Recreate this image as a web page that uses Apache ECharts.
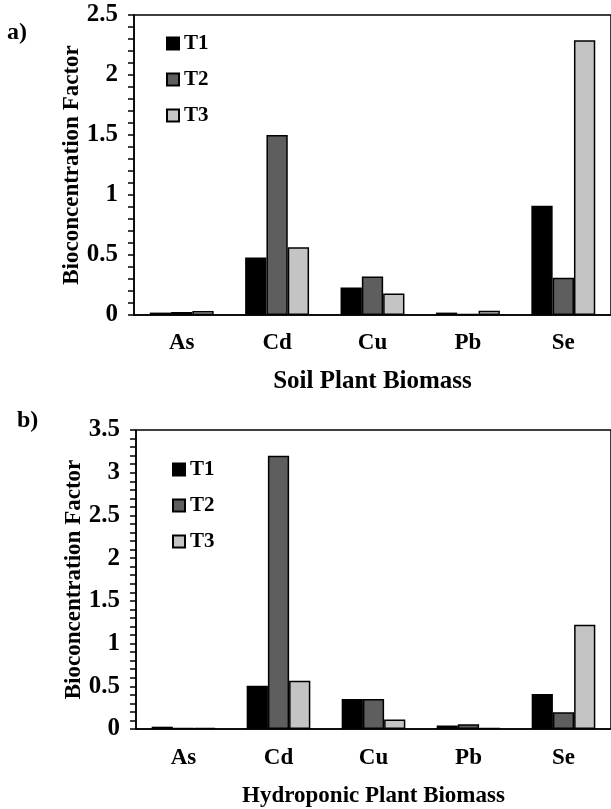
<!DOCTYPE html>
<html>
<head>
<meta charset="utf-8">
<script src="https://cdn.jsdelivr.net/npm/echarts@6/dist/echarts.min.js"></script>
<style>
html,body{margin:0;padding:0;background:#fff;}
#c{width:611px;height:809px;}
</style>
</head>
<body>
<div id="c"></div>
<script>
const categories = ['As', 'Cd', 'Cu', 'Pb', 'Se'];
const seriesNames = ['T1', 'T2', 'T3'];
// Panel a) Soil Plant Biomass
const soilT1 = [0.02, 0.48, 0.23, 0.02, 0.91];
const soilT2 = [0.025, 1.5, 0.32, 0.01, 0.31];
const soilT3 = [0.033, 0.565, 0.18, 0.035, 2.29];
// Panel b) Hydroponic Plant Biomass
const hydroT1 = [0.027, 0.505, 0.35, 0.04, 0.41];
const hydroT2 = [0.01, 3.2, 0.35, 0.055, 0.195];
const hydroT3 = [0.01, 0.565, 0.11, 0.01, 1.22];
const yTicksA = { min: 0, max: 2.5, interval: 0.5 };
const yTicksB = { min: 0, max: 3.5, interval: 0.5 };

const FONT = '"Liberation Serif", "Times New Roman", serif';
const colors = ['#000000', '#5e5e5e', '#c4c4c4'];

function yAxis(idx, t) {
  return {
    type: 'value', gridIndex: idx, min: t.min, max: t.max, interval: t.interval,
    name: 'Bioconcentration Factor', nameLocation: 'middle', nameGap: 50, nameMoveOverlap: false,
    nameTextStyle: { fontFamily: FONT, fontWeight: 'bold', fontSize: 23, color: '#000' },
    axisLine: { show: true, lineStyle: { color: '#000', width: 1.5 } },
    axisTick: { show: true, length: 6, lineStyle: { color: '#000', width: 1.5 } },
    minorTick: { show: true, splitNumber: 5, length: 6, lineStyle: { color: '#000', width: 1.5 } },
    splitLine: { show: false },
    axisLabel: { fontFamily: FONT, fontWeight: 'bold', fontSize: 25, color: '#000', margin: 16,
      formatter: v => String(Math.round(v * 10) / 10) }
  };
}
function xAxis(idx, name, nameSize, nameGap, margin) {
  return {
    type: 'category', gridIndex: idx, data: categories,
    name: name, nameLocation: 'middle', nameGap: nameGap, nameMoveOverlap: false,
    nameTextStyle: { fontFamily: FONT, fontWeight: 'bold', fontSize: nameSize, color: '#000' },
    axisLine: { show: true, lineStyle: { color: '#000', width: 1.5 } },
    axisTick: { show: false },
    axisLabel: { fontFamily: FONT, fontWeight: 'bold', fontSize: 23, color: '#000', margin: margin }
  };
}
function bar(name, data, idx, ci) {
  return {
    type: 'bar', name: name, data: data, xAxisIndex: idx, yAxisIndex: idx,
    barGap: '0%', barCategoryGap: '33%',
    itemStyle: { color: colors[ci], borderColor: '#000', borderWidth: 1.5 },
    emphasis: { disabled: true }, animation: false
  };
}
function legend(left, top) {
  return {
    orient: 'vertical', left: left, top: top, padding: 0,
    itemWidth: 12, itemHeight: 12, itemGap: 15, icon: 'rect',
    textStyle: { fontFamily: FONT, fontWeight: 'bold', fontSize: 21, color: '#000', lineHeight: 21 },
    data: seriesNames
  };
}

const chart = echarts.init(document.getElementById('c'), null, { renderer: 'canvas' });
chart.setOption({
  animation: false,
  backgroundColor: '#fff',
  grid: [
    { left: 134, top: 15, width: 484, height: 300, show: true, borderColor: '#000', borderWidth: 1.5, backgroundColor: 'transparent' },
    { left: 136, top: 430, width: 482, height: 300, show: true, borderColor: '#000', borderWidth: 1.5, backgroundColor: 'transparent' }
  ],
  xAxis: [xAxis(0, 'Soil Plant Biomass', 25, 54, 17), xAxis(1, 'Hydroponic Plant Biomass', 23, 56, 18)],
  yAxis: [yAxis(0, yTicksA), yAxis(1, yTicksB)],
  legend: [legend(166, 33), legend(172, 459)],
  series: [
    bar(seriesNames[0], soilT1, 0, 0), bar(seriesNames[1], soilT2, 0, 1), bar(seriesNames[2], soilT3, 0, 2),
    bar(seriesNames[0], hydroT1, 1, 0), bar(seriesNames[1], hydroT2, 1, 1), bar(seriesNames[2], hydroT3, 1, 2)
  ],
  graphic: [
    { type: 'text', left: 7, top: 21, style: { text: 'a)', font: 'bold 24px ' + FONT, fill: '#000' } },
    { type: 'text', left: 17, top: 409, style: { text: 'b)', font: 'bold 24px ' + FONT, fill: '#000' } }
  ]
});
</script>
</body>
</html>
